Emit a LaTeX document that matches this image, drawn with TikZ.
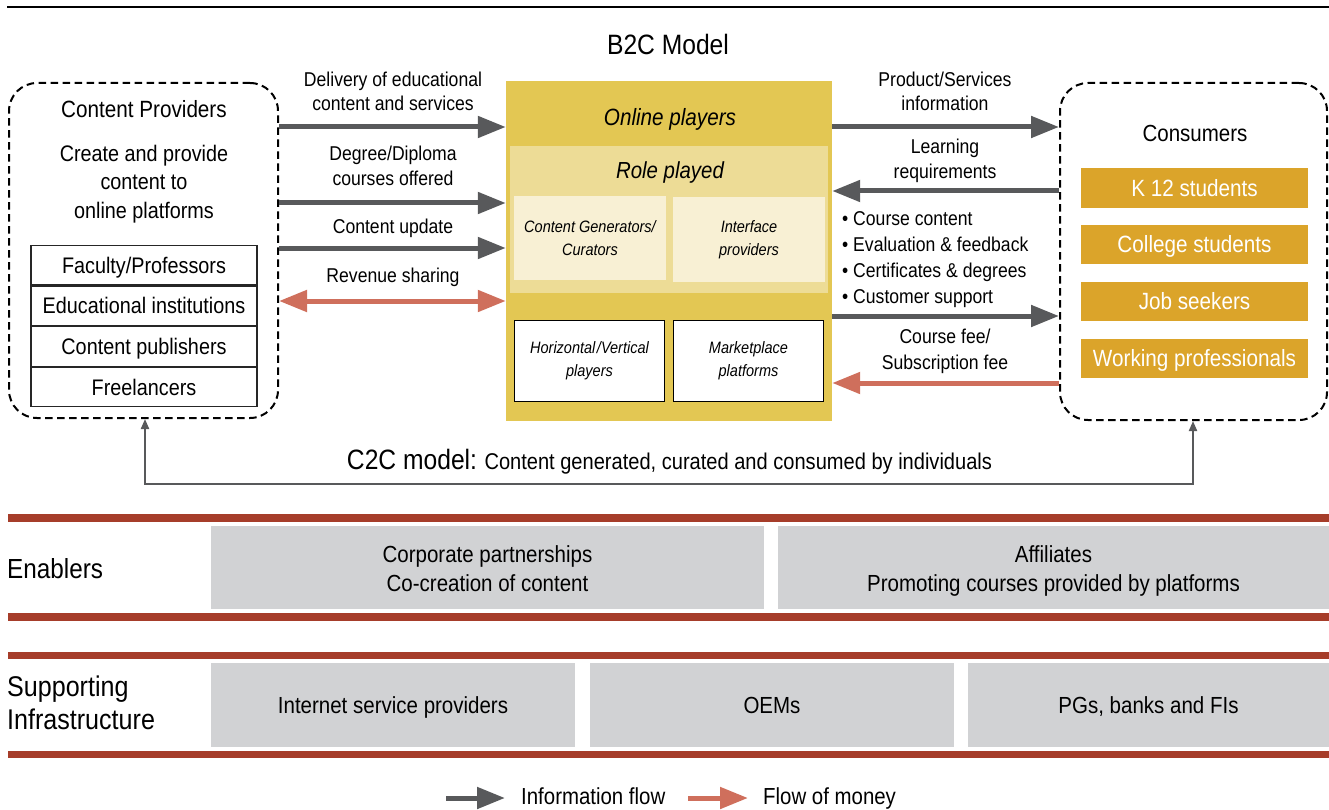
\documentclass[tikz,border=0pt]{standalone}
\usepackage{fontspec}
\setmainfont{Liberation Sans}[FakeStretch=0.88]
\usetikzlibrary{arrows.meta}
\definecolor{infog}{HTML}{58595B}
\definecolor{moneyc}{HTML}{CF6F5C}
\definecolor{yellowb}{HTML}{E3C753}
\definecolor{roleb}{HTML}{EDDC96}
\definecolor{innerb}{HTML}{F8F0D4}
\definecolor{orangeb}{HTML}{DBA42A}
\definecolor{redbar}{HTML}{A63D2A}
\definecolor{grayb}{HTML}{D1D2D4}
\newcommand{\fsz}[2]{\fontsize{#1}{#2}\selectfont}
\tikzset{
  lbl/.style={font=\fsz{20}{24.5}, align=center, inner sep=0pt},
  med/.style={font=\fsz{23.3}{28.5}, align=center, inner sep=0pt},
  big/.style={font=\fsz{28}{33}, align=left, inner sep=0pt},
  dbox/.style={draw, dash pattern=on 7.5pt off 4.5pt, line width=2pt, rounded corners=28pt, inner sep=0pt},
  trow/.style={draw=black!85, line width=1.2pt, minimum width=226pt, minimum height=39.5pt, inner sep=0pt, text height=21.8pt, text depth=5.6pt, font=\fsz{22.5}{27}},
  ibox/.style={fill=innerb, minimum width=152pt, minimum height=84pt, inner sep=0pt, align=center, font=\fsz{16.5}{23}\itshape},
  wbox/.style={fill=white, draw=black, line width=1.2pt, minimum width=150pt, minimum height=81pt, inner sep=0pt, align=center, font=\fsz{16.5}{23}\itshape},
  obox/.style={fill=orangeb, minimum width=227pt, minimum height=39.5pt, inner sep=0pt, text height=22.8pt, text depth=5.9pt, text=white, font=\fsz{23.5}{28}},
  gbox/.style={fill=grayb, inner sep=0pt, align=center, font=\fsz{23.3}{29}},
  gtxt/.style={inner sep=0pt, align=center, font=\fsz{23.3}{29}},
  info/.style={draw=infog, line width=5pt, -{Triangle[length=28pt,width=21pt]}},
  money/.style={draw=moneyc, line width=5pt, -{Triangle[length=28pt,width=21pt]}},
  moneyboth/.style={draw=moneyc, line width=5pt, {Triangle[length=28pt,width=21pt]}-{Triangle[length=28pt,width=21pt]}},
  c2c/.style={draw=infog, line width=2pt, {Triangle[length=10pt,width=8pt]}-{Triangle[length=10pt,width=8pt]}},
}
\begin{document}
\begin{tikzpicture}[x=1pt,y=-1pt]
\useasboundingbox (0,0) rectangle (1329,810);
% top rule
\coordinate (tl) at (7,7);
\coordinate (tr) at (1329,7);
\draw[line width=1.5pt] (tl) -- (tr);
\node[font=\fsz{28}{33}, inner sep=0pt] (b2c) at (668,44) {B2C Model};

% content providers
\node[dbox, minimum width=269pt, minimum height=335pt] (cp) at (143.5,250.5) {};
\node[med, font=\fsz{23.5}{28}] (cpt) at (144,109) {Content Providers};
\node[med, font=\fsz{22.5}{28.5}] (cpd) at (144,184) {Create and provide\\content to\\online platforms};
\node[trow] (t1) at (144,265) {Faculty/Professors};
\node[trow, anchor=north] (t2) at (t1.south) {Educational institutions};
\node[trow, anchor=north] (t3) at (t2.south) {Content publishers};
\node[trow, anchor=north] (t4) at (t3.south) {Freelancers};

% online players
\node[fill=yellowb, minimum width=326pt, minimum height=340pt, inner sep=0pt] (op) at (669,251) {};
\node[med, font=\fsz{23.5}{28}\itshape] (opt) at (670,119) {Online players};
\node[fill=roleb, minimum width=318pt, minimum height=147pt, inner sep=0pt] (rp) at (669,219.5) {};
\node[med, font=\fsz{23.2}{28}\itshape] (rpt) at (670,172.5) {Role played};
\node[ibox] (cg) at (590,238) {Content Generators/\\Curators};
\node[ibox] (ip) at (749,239.5) {Interface\\providers};
\node[wbox] (hv) at (589.5,361) {Horizontal\kern1.5pt/Vertical\\players};
\node[wbox] (mp) at (748.5,361) {Marketplace\\platforms};

% consumers
\node[dbox, minimum width=267pt, minimum height=337pt] (cs) at (1193.5,251.5) {};
\node[med] (cst) at (1195,133) {Consumers};
\node[obox] (k12) at (1194.5,188) {K 12 students};
\node[obox] (col) at (1194.5,244.5) {College students};
\node[obox] (job) at (1194.5,301.5) {Job seekers};
\node[obox] (wp) at (1194.5,358.5) {Working professionals};

% left flows
\node[lbl] (l1) at (393,91.5) {Delivery of educational\\content and services};
\node[lbl] (l2) at (393,166) {Degree/Diploma\\courses offered};
\node[lbl] (l3) at (393,228) {Content update};
\node[lbl] (l4) at (393,277) {Revenue sharing};
\draw[info] (cp.east |- 0,127) -- (op.west |- 0,127);
\draw[info] (cp.east |- 0,203) -- (op.west |- 0,203);
\draw[info] (cp.east |- 0,248) -- (op.west |- 0,248);
\draw[moneyboth] (cp.east |- 0,301) -- (op.west |- 0,301);

% right flows
\node[lbl] (r1) at (945,91.5) {Product/Services\\information};
\node[lbl] (r2) at (945,161) {Learning\\requirements};
\node[lbl, align=left, font=\fsz{20}{26}, anchor=west] (r3) at (842,260) {• Course content\\• Evaluation \& feedback\\• Certificates \& degrees\\• Customer support};
\node[lbl, font=\fsz{20}{26}] (r4) at (945,351) {Course fee/\\Subscription fee};
\draw[info] (op.east |- 0,127) -- (cs.west |- 0,127);
\draw[info] (cs.west |- 0,191) -- (op.east |- 0,191);
\draw[info] (op.east |- 0,316) -- (cs.west |- 0,316);
\draw[money] (cs.west |- 0,383) -- (op.east |- 0,383);

% C2C
\coordinate (c2cL) at (145,484);
\coordinate (c2cR) at (1193,484);
\draw[c2c] (cp.south -| c2cL) -- (c2cL) -- (c2cR) -- (cs.south -| c2cR);
\node[inner sep=0pt, anchor=base] (c2ct) at (669.5,469) {{\fsz{28}{33}C2C model:}{\fsz{22.8}{28} Content generated, curated and consumed by individuals}};

% bars
\fill[redbar] (8,514) rectangle (1329,522);
\fill[redbar] (8,613) rectangle (1329,621);
\fill[redbar] (8,652) rectangle (1329,659);
\fill[redbar] (8,751) rectangle (1329,758);

% enablers
\node[big, anchor=west, font=\fsz{27.6}{33}] (en) at (7,568.5) {Enablers};
\node[gbox, minimum width=553pt, minimum height=83pt] (e1) at (487.5,567.5) {};
\node[gtxt] (e1t) at (487.5,568.5) {Corporate partnerships\\Co-creation of content};
\node[gbox, minimum width=551pt, minimum height=83pt] (e2) at (1053.5,567.5) {};
\node[gtxt] (e2t) at (1053.5,570.5) {Affiliates\\Promoting courses provided by platforms};

% supporting infrastructure
\node[big, anchor=west, font=\fsz{28.5}{33}] (si) at (7,703) {Supporting\\Infrastructure};
\node[gbox, minimum width=364pt, minimum height=84pt, text height=22.5pt, text depth=5.7pt] (s1) at (393,705) {Internet service providers};
\node[gbox, minimum width=364pt, minimum height=84pt, text height=22.5pt, text depth=5.7pt] (s2) at (772,705) {OEMs};
\node[gbox, minimum width=361pt, minimum height=84pt, text height=22.5pt, text depth=5.7pt] (s3) at (1148.5,705) {PGs, banks and FIs};

% legend
\coordinate (lg1s) at (446,798);
\coordinate (lg1e) at (505,798);
\coordinate (lg2s) at (688,798);
\coordinate (lg2e) at (748,798);
\draw[info] (lg1s) -- (lg1e);
\draw[money] (lg2s) -- (lg2e);
\node[anchor=base west, inner sep=0pt, font=\fsz{23.2}{28}] (lgt1) at (521,804.5) {Information flow};
\node[anchor=base west, inner sep=0pt, font=\fsz{23.2}{28}] (lgt2) at (763,804.5) {Flow of money};
\end{tikzpicture}
\end{document}
